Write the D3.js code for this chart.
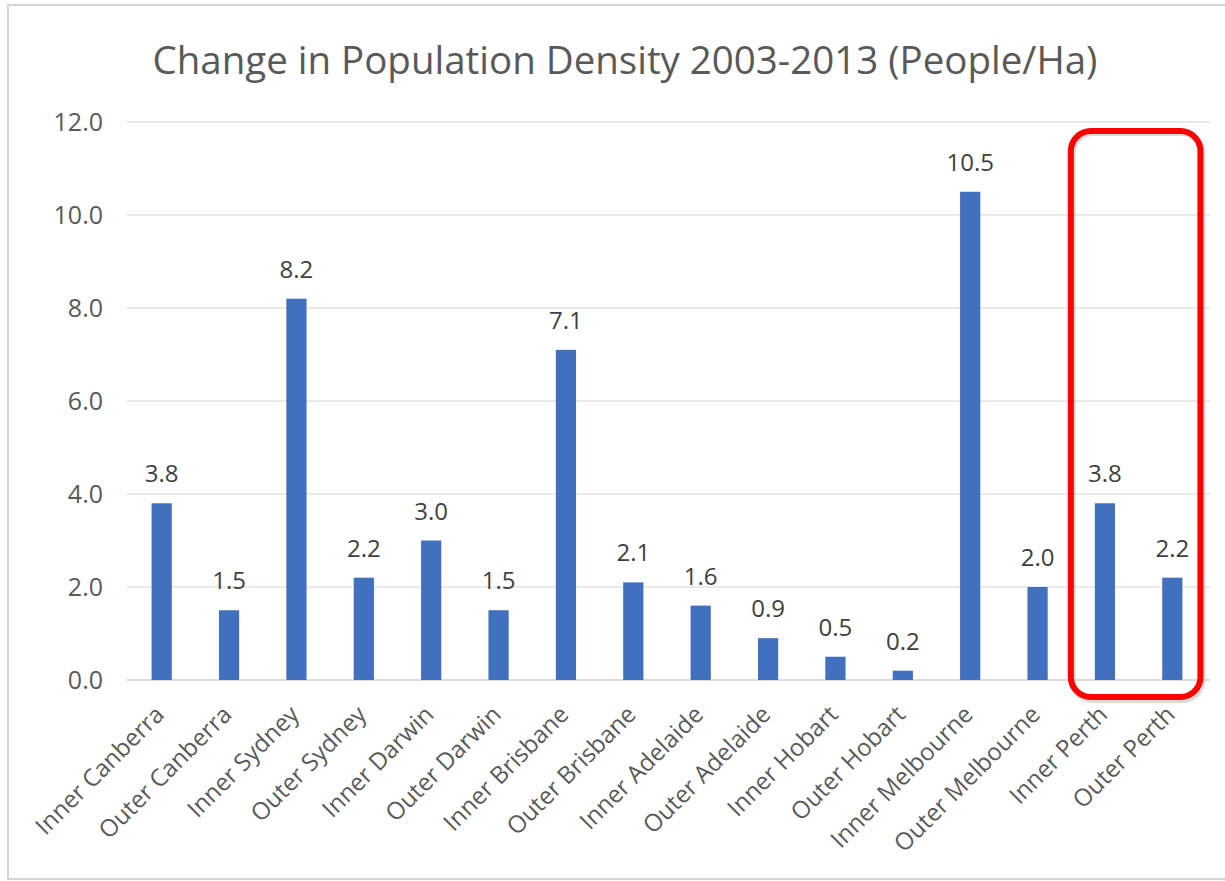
<!DOCTYPE html>
<html>
<head>
<meta charset="utf-8">
<script src="https://cdn.jsdelivr.net/npm/d3@7"></script>
<style>
  body { margin: 0; background: #fff; }
  svg { display: block; }
  text { font-family: "Open Sans", "Noto Sans", sans-serif; }
</style>
</head>
<body>
<svg id="chart" width="1225" height="881"></svg>
<script>
// chart data
var categories = ["Inner Canberra", "Outer Canberra", "Inner Sydney", "Outer Sydney",
  "Inner Darwin", "Outer Darwin", "Inner Brisbane", "Outer Brisbane",
  "Inner Adelaide", "Outer Adelaide", "Inner Hobart", "Outer Hobart",
  "Inner Melbourne", "Outer Melbourne", "Inner Perth", "Outer Perth"];
var values = [3.8, 1.5, 8.2, 2.2, 3.0, 1.5, 7.1, 2.1, 1.6, 0.9, 0.5, 0.2, 10.5, 2.0, 3.8, 2.2];
var yTicks = [0, 2, 4, 6, 8, 10, 12];
var highlighted = ["Inner Perth", "Outer Perth"];
var title = "Change in Population Density 2003-2013 (People/Ha)";

var svg = d3.select("#chart");

// frame
svg.append("rect")
  .attr("x", 8).attr("y", 5)
  .attr("width", 1230).attr("height", 874)
  .attr("fill", "#fff")
  .attr("stroke", "#d4d4d4")
  .attr("stroke-width", 2);

var x = d3.scaleBand().domain(categories).range([128, 1206]).paddingInner(0.7).paddingOuter(0.35);
var y = d3.scaleLinear().domain([0, 12]).range([680, 122]);

// gridlines
svg.append("g")
  .selectAll("line")
  .data(yTicks)
  .enter().append("line")
  .attr("x1", 127).attr("x2", 1210)
  .attr("y1", function(d) { return y(d); })
  .attr("y2", function(d) { return y(d); })
  .attr("stroke", function(d) { return d === 0 ? "#d0d0d0" : "#e3e3e3"; })
  .attr("stroke-width", 1.3);

// y axis labels
var yAxis = d3.axisLeft(y).tickValues(yTicks).tickFormat(d3.format(".1f")).tickSize(0).tickPadding(0);
var yg = svg.append("g").attr("transform", "translate(103,0)").call(yAxis);
yg.select(".domain").remove();
yg.selectAll("text")
  .attr("fill", "#595959")
  .style("font-size", "25px")
  .attr("dy", "0.35em");

// bars
svg.append("g")
  .selectAll("rect")
  .data(values)
  .enter().append("rect")
  .attr("x", function(d, i) { return x(categories[i]); })
  .attr("y", function(d) { return y(d); })
  .attr("width", x.bandwidth())
  .attr("height", function(d) { return y(0) - y(d); })
  .attr("fill", "#4170BF");

// data labels
svg.append("g")
  .selectAll("text")
  .data(values)
  .enter().append("text")
  .attr("x", function(d, i) { return x(categories[i]) + x.bandwidth() / 2; })
  .attr("y", function(d) { return y(d) - 21; })
  .attr("text-anchor", "middle")
  .attr("fill", "#404040")
  .style("font-size", "24px")
  .text(function(d) { return d3.format(".1f")(d); });

// x axis labels, rotated
var xAxis = d3.axisBottom(x).tickSize(0).tickPadding(0);
var xg = svg.append("g").attr("transform", "translate(0,0)").call(xAxis);
xg.select(".domain").remove();
xg.selectAll("text")
  .attr("fill", "#595959")
  .style("font-size", "24px")
  .attr("text-anchor", "end")
  .attr("y", 0)
  .attr("dy", 0)
  .attr("transform", "translate(4,716) rotate(-45)");

// title
var t = svg.append("text")
  .attr("x", 625).attr("y", 74)
  .attr("text-anchor", "middle")
  .attr("fill", "#595959")
  .style("font-size", "32px")
  .text(title);
var tw = t.node().getComputedTextLength();
if (tw > 0) t.style("font-size", (32 * 945 / tw) + "px");

// red highlight box round the Perth bars
var hx0 = x(highlighted[0]) - 24;
var hx1 = x(highlighted[1]) + x.bandwidth() + 18;
svg.append("rect")
  .attr("x", hx0 + 2).attr("y", 133)
  .attr("width", hx1 - hx0).attr("height", 567)
  .attr("rx", 20)
  .attr("fill", "none")
  .attr("stroke", "#999")
  .attr("stroke-opacity", 0.35)
  .attr("stroke-width", 6);
svg.append("rect")
  .attr("x", hx0).attr("y", 131)
  .attr("width", hx1 - hx0).attr("height", 566)
  .attr("rx", 20)
  .attr("fill", "none")
  .attr("stroke", "#ff0000")
  .attr("stroke-width", 6);
</script>
</body>
</html>
